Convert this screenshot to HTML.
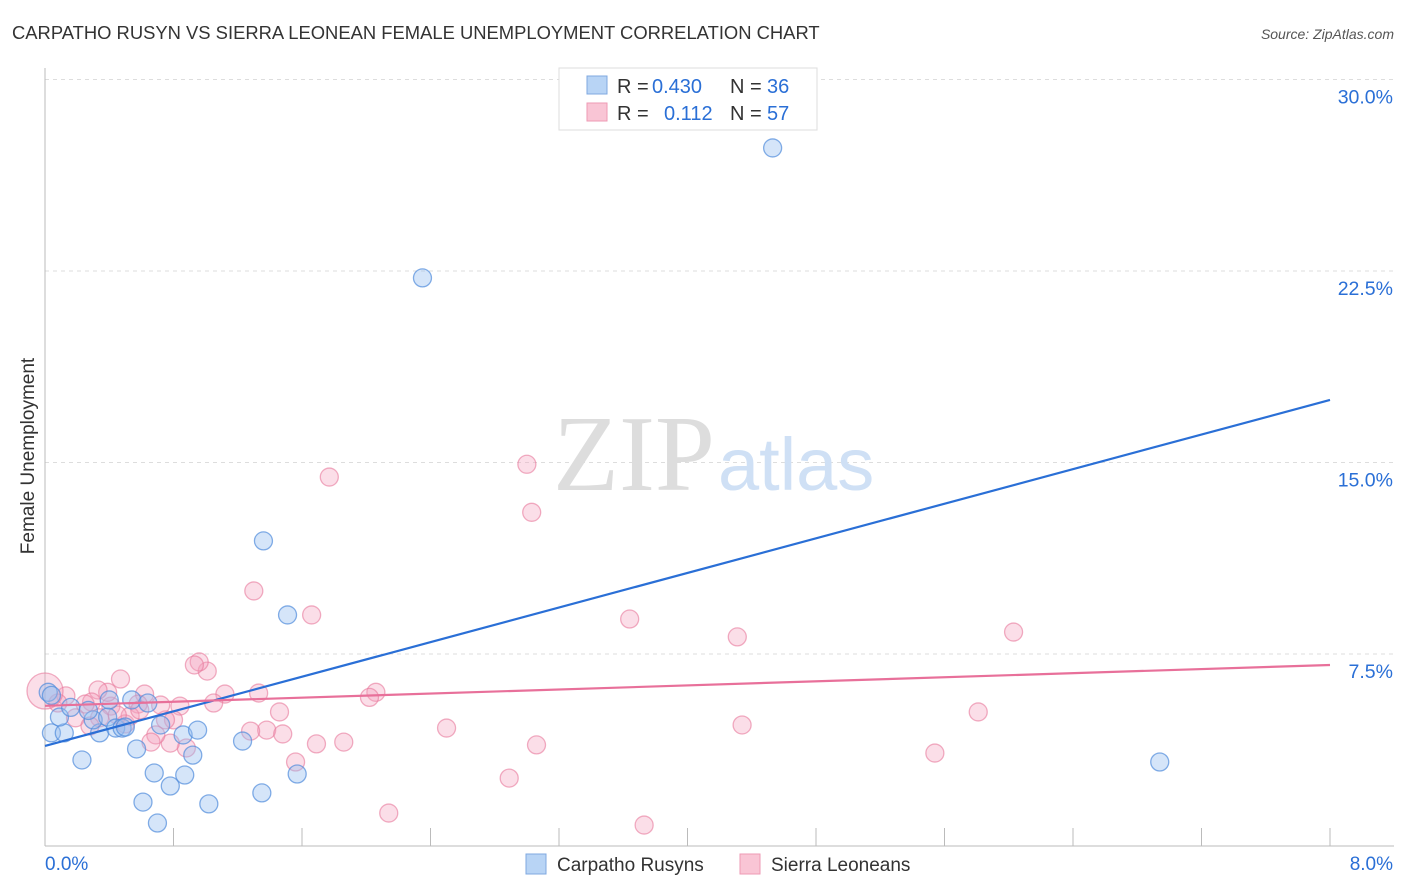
<!DOCTYPE html>
<html><head><meta charset="utf-8"><style>
body{margin:0;background:#fff;font-family:"Liberation Sans",sans-serif;}
svg{display:block}
</style></head><body>
<svg id="c" width="1406" height="892">
<text x="12" y="39" font-size="18.4" fill="#333">CARPATHO RUSYN VS SIERRA LEONEAN FEMALE UNEMPLOYMENT CORRELATION CHART</text>
<text x="1394" y="39" font-size="14" fill="#555" font-style="italic" text-anchor="end">Source: ZipAtlas.com</text>
<text x="34" y="456" font-size="19" fill="#333" text-anchor="middle" transform="rotate(-90 34 456)">Female Unemployment</text>
<g id="grid"></g>
<text x="715" y="490" font-size="108" fill="#ddd" text-anchor="end" font-family="Liberation Serif,serif">ZIP</text>
<text x="718" y="490" font-size="74" fill="#cfe0f5">atlas</text>
<g id="pts"></g>
<g id="lines"></g>
<g>
<rect x="559" y="68" width="258" height="62" fill="#fff" stroke="#ddd"/>
<rect x="587" y="76" width="20" height="18" fill="#b8d4f5" stroke="#7fa8e0"/>
<rect x="587" y="103" width="20" height="18" fill="#f9c5d5" stroke="#ee9ab4"/>
<text x="617" y="93" font-size="20" fill="#333">R =</text>
<text x="652" y="93" font-size="20" fill="#2a6fd6">0.430</text>
<text x="730" y="93" font-size="20" fill="#333">N =</text>
<text x="767" y="93" font-size="20" fill="#2a6fd6">36</text>
<text x="617" y="120" font-size="20" fill="#333">R =</text>
<text x="664" y="120" font-size="20" fill="#2a6fd6">0.112</text>
<text x="730" y="120" font-size="20" fill="#333">N =</text>
<text x="767" y="120" font-size="20" fill="#2a6fd6">57</text>
</g>
<g>
<rect x="526" y="854" width="20" height="20" fill="#b8d4f5" stroke="#7fa8e0"/>
<text x="557" y="871" font-size="19" fill="#333">Carpatho Rusyns</text>
<rect x="740" y="854" width="20" height="20" fill="#f9c5d5" stroke="#ee9ab4"/>
<text x="771" y="871" font-size="19" fill="#333">Sierra Leoneans</text>
</g>
</svg>
<script>
const yTicks=[7.5,15,22.5,30];
const xTickLabels=["0.0%","8.0%"];
const blueX=[4.53,2.35,1.36,1.51,6.94,0.04,0.12,0.09,0.23,0.34,0.30,0.39,0.44,0.48,0.54,0.64,0.57,0.68,0.70,0.61,0.78,0.87,0.92,0.86,0.95,1.02,1.23,1.35,1.57,0.50,0.02,0.16,0.40,0.72,0.04,0.27];
const blueY=[27.32,22.23,11.93,9.03,3.27,4.41,4.41,5.03,3.35,4.41,4.92,5.03,4.60,4.60,5.70,5.58,3.78,2.84,0.88,1.70,2.33,2.76,3.54,4.33,4.52,1.63,4.09,2.06,2.80,4.64,6.00,5.41,5.70,4.72,5.88,5.29];
const pinkX=[1.77,3.00,3.03,1.30,1.66,3.64,4.31,6.03,5.81,5.54,4.34,3.06,2.89,3.73,2.50,2.14,2.06,2.02,1.69,1.86,1.56,1.46,1.38,1.48,1.33,1.28,1.12,1.05,1.01,0.96,0.93,0.84,0.80,0.75,0.88,0.78,0.69,0.66,0.62,0.58,0.50,0.47,0.41,0.39,0.33,0.29,0.25,0.19,0.13,0.08,0.0,0.34,0.53,0.28,0.45,0.59,0.72];
const pinkY=[14.43,14.93,13.05,9.97,9.03,8.87,8.17,8.36,5.23,3.62,4.72,3.94,2.64,0.80,4.60,1.27,6.00,5.80,3.98,4.05,3.27,5.23,4.52,4.37,5.97,4.48,5.93,5.58,6.83,7.19,7.07,5.46,4.92,4.92,3.82,4.01,4.33,4.05,5.93,5.54,4.76,6.52,5.46,6.00,6.09,5.62,5.54,5.00,5.86,5.58,6.05,5.00,5.07,4.68,5.11,5.31,5.50];
const blueLine=[3.9,17.45];
const pinkLine=[5.47,7.07];
const X=v=>45+v/8*1285, Y=v=>845.5-v/30*766;
const NS="http://www.w3.org/2000/svg";
function mk(t,a,p){const e=document.createElementNS(NS,t);for(const k in a)e.setAttribute(k,a[k]);p.appendChild(e);return e;}
const grid=document.getElementById('grid');
yTicks.forEach(t=>{
 const l=mk('line',{x1:45,x2:1394,y1:Y(t),y2:Y(t),stroke:'#ddd','stroke-dasharray':'4,4'},grid);
 
 
 const tx=mk('text',{x:1393,y:Y(t)+24,'font-size':19.5,fill:'#2a6fd6','text-anchor':'end'},grid);
 tx.textContent=t.toFixed(1)+'%';
 
 
});
const ax=mk('line',{x1:45,x2:45,y1:68,y2:846,stroke:'#bbb'},grid);


const bx=mk('line',{x1:45,x2:1394,y1:846,y2:846,stroke:'#bbb'},grid);


for(let i=1;i<=10;i++){const t=mk('line',{x1:X(i*0.8),x2:X(i*0.8),y1:828,y2:846,stroke:'#bbb'},grid);
 
 }
xTickLabels.forEach((s,i)=>{const t=mk('text',{x:i?1393:45,y:870,'font-size':19,fill:'#2a6fd6','text-anchor':i?'end':'start'},grid);t.textContent=s;
 
 });
const pts=document.getElementById('pts');
pinkX.forEach((x,i)=>{const c=mk('circle',{cx:X(x),cy:Y(pinkY[i]),r:i==50?18:9,fill:'rgba(244,160,188,0.35)',stroke:'rgba(232,120,155,0.6)','stroke-width':1.3},pts);
 
 });
blueX.forEach((x,i)=>{const c=mk('circle',{cx:X(x),cy:Y(blueY[i]),r:9,fill:'rgba(150,190,240,0.4)',stroke:'rgba(80,140,220,0.7)','stroke-width':1.3},pts);
 
 });
const lines=document.getElementById('lines');
const bl=mk('line',{x1:X(0),y1:Y(blueLine[0]),x2:X(8),y2:Y(blueLine[1]),stroke:'#2a6fd6','stroke-width':2.2},lines);


const pl=mk('line',{x1:X(0),y1:Y(pinkLine[0]),x2:X(8),y2:Y(pinkLine[1]),stroke:'#e8709a','stroke-width':2.2},lines);


</script>
</body></html>
